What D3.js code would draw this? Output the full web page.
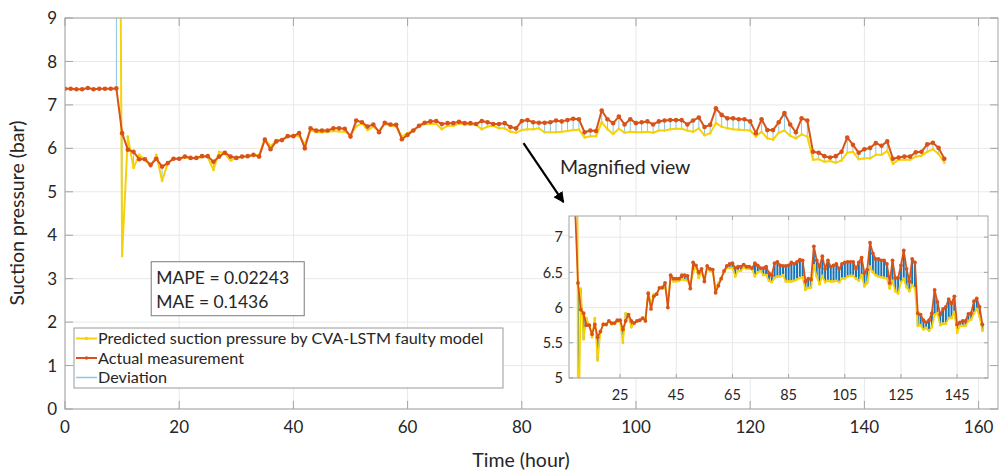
<!DOCTYPE html>
<html><head><meta charset="utf-8">
<script src="https://cdn.jsdelivr.net/npm/d3@7"></script>
<style>
body{margin:0;background:#fff;}
text{font-family:Lato,'Open Sans',sans-serif;fill:#262626;}
</style>
</head><body>
<svg id="chart" width="1000" height="472"></svg>
<script>
// ---------------- data ----------------
const hours = [0,1,2,3,4,5,6,7,8,9,10,11,12,13,14,15,16,17,18,19,20,21,22,23,24,25,26,27,28,29,
30,31,32,33,34,35,36,37,38,39,40,41,42,43,44,45,46,47,48,49,50,51,52,53,54,55,56,57,58,59,
60,61,62,63,64,65,66,67,68,69,70,71,72,73,74,75,76,77,78,79,80,81,82,83,84,85,86,87,88,89,
90,91,92,93,94,95,96,97,98,99,100,101,102,103,104,105,106,107,108,109,110,111,112,113,114,
115,116,117,118,119,120,121,122,123,124,125,126,127,128,129,130,131,132,133,134,135,136,137,
138,139,140,141,142,143,144,145,146,147,148,149,150,151,152,153,154];

const actual = [7.37,7.37,7.36,7.36,7.39,7.36,7.37,7.37,7.37,7.38,
6.35,5.97,5.92,5.75,5.75,5.62,5.76,5.58,5.66,5.76,
5.76,5.81,5.78,5.78,5.82,5.82,5.69,5.81,5.90,5.81,
5.78,5.81,5.82,5.85,5.81,6.20,5.98,6.16,6.19,6.28,
6.28,6.35,6.00,6.46,6.41,6.41,6.41,6.46,6.46,6.45,
6.27,6.64,6.60,6.50,6.55,6.37,6.59,6.55,6.54,6.21,
6.31,6.41,6.52,6.59,6.62,6.63,6.56,6.58,6.58,6.61,
6.58,6.58,6.56,6.63,6.60,6.56,6.56,6.58,6.49,6.46,
6.63,6.65,6.60,6.59,6.59,6.60,6.64,6.62,6.65,6.68,
6.67,6.37,6.41,6.40,6.87,6.67,6.58,6.73,6.55,6.67,
6.58,6.60,6.62,6.55,6.62,6.64,6.65,6.65,6.65,6.55,
6.64,6.71,6.49,6.54,6.92,6.77,6.69,6.69,6.67,6.67,
6.62,6.35,6.67,6.42,6.42,6.60,6.81,6.55,6.37,6.69,
6.64,5.92,5.90,5.82,5.79,5.82,5.92,6.25,6.08,5.90,
5.98,6.01,6.12,6.06,6.16,5.76,5.79,5.81,5.81,5.91,
5.92,6.09,6.13,6.01,5.76];

const predicted = [null,null,null,null,null,null,null,null,null,27.0,
3.52,6.27,5.55,5.85,5.74,5.58,5.85,5.25,5.66,5.77,
5.75,5.80,5.76,5.77,5.80,5.80,5.50,5.92,5.88,5.72,
5.78,5.80,5.82,5.84,5.85,6.22,6.05,6.19,6.20,6.27,
6.30,6.28,6.10,6.42,6.37,6.37,6.38,6.40,6.39,6.38,
6.31,6.50,6.58,6.42,6.50,6.41,6.56,6.52,6.50,6.27,
6.35,6.42,6.50,6.56,6.56,6.56,6.44,6.52,6.52,6.57,
6.55,6.55,6.54,6.44,6.50,6.52,6.46,6.46,6.38,6.36,
6.42,6.44,6.44,6.46,6.37,6.37,6.37,6.38,6.40,6.42,
6.43,6.25,6.28,6.28,6.60,6.44,6.33,6.45,6.36,6.38,
6.37,6.37,6.38,6.36,6.41,6.41,6.44,6.45,6.45,6.41,
6.38,6.46,6.30,6.35,6.58,6.50,6.46,6.44,6.43,6.42,
6.41,6.27,6.38,6.23,6.20,6.36,6.41,6.29,6.23,6.32,
6.27,5.74,5.75,5.69,5.71,5.67,5.72,5.90,5.92,5.75,
5.77,5.77,5.85,5.85,5.94,5.64,5.74,5.74,5.74,5.81,
5.83,5.92,5.98,5.87,5.67];

const xTicks = [0,20,40,60,80,100,120,140,160];
const yTicks = [0,1,2,3,4,5,6,7,8,9];
const insetXTicks = [25,45,65,85,105,125,145];
const insetYTicks = [5,5.5,6,6.5,7];
const insetYLabels = ["5","5.5","6","6.5","7"];
const legendLabels = ["Predicted suction pressure by CVA-LSTM faulty model","Actual measurement","Deviation"];
const statsLabels = ["MAPE = 0.02243","MAE = 0.1436"];
const xTitle = "Time (hour)";
const yTitle = "Suction pressure (bar)";
const noteText = "Magnified view";

// ---------------- styles ----------------
const C = {yellow:"#F7D208", orange:"#D95319", light:"#86C7EC", dark:"#1674B8",
           axis:"#a3a3a3", grid:"#e8e8e8"};

const rows = hours.map((h,i)=>({h, a:actual[i], p:predicted[i]}));
const rowsP = rows.filter(d=>d.p!=null);

const svg = d3.select("#chart");

function drawPanel(g, x, y, o){
  const [x0,x1] = x.range(), [y0,y1] = y.range();
  const id = o.id;
  g.append("rect").attr("x",x0).attr("y",y1).attr("width",x1-x0).attr("height",y0-y1).attr("fill","#fff");
  // grid
  g.append("g").selectAll("line").data(o.xt).join("line")
    .attr("x1",d=>x(d)).attr("x2",d=>x(d)).attr("y1",y0).attr("y2",y1)
    .attr("stroke",C.grid).attr("stroke-width",1);
  g.append("g").selectAll("line").data(o.yt).join("line")
    .attr("y1",d=>y(d)).attr("y2",d=>y(d)).attr("x1",x0).attr("x2",x1)
    .attr("stroke",C.grid).attr("stroke-width",1);
  g.append("clipPath").attr("id",id).append("rect")
    .attr("x",x0).attr("y",y1).attr("width",x1-x0).attr("height",y0-y1);
  const pg = g.append("g").attr("clip-path",`url(#${id})`);
  // deviation stems
  pg.append("g").selectAll("line").data(rowsP).join("line")
    .attr("x1",d=>x(d.h)).attr("x2",d=>x(d.h)).attr("y1",d=>y(d.a)).attr("y2",d=>y(d.p))
    .attr("stroke",o.stemColor).attr("stroke-width",o.stemWidth);
  const line = (key)=>d3.line().defined(d=>d[key]!=null).x(d=>x(d.h)).y(d=>y(d[key]));
  pg.append("path").datum(rowsP).attr("d",line("p")).attr("fill","none")
    .attr("stroke",C.yellow).attr("stroke-width",o.lw).attr("stroke-linejoin","round");
  pg.append("g").selectAll("circle").data(rowsP).join("circle")
    .attr("cx",d=>x(d.h)).attr("cy",d=>y(d.p)).attr("r",o.ry).attr("fill",C.yellow);
  pg.append("path").datum(rows).attr("d",line("a")).attr("fill","none")
    .attr("stroke",C.orange).attr("stroke-width",o.lw).attr("stroke-linejoin","round");
  pg.append("g").selectAll("circle").data(rows).join("circle")
    .attr("cx",d=>x(d.h)).attr("cy",d=>y(d.a)).attr("r",o.ro).attr("fill",C.orange);
  // box
  g.append("rect").attr("x",x0).attr("y",y1).attr("width",x1-x0).attr("height",y0-y1)
    .attr("fill","none").attr("stroke",C.axis).attr("stroke-width",1);
  // ticks (inward, all sides)
  const tl = o.tl;
  const tk = g.append("g").attr("stroke",C.axis).attr("stroke-width",1);
  o.xt.forEach(t=>{
    tk.append("line").attr("x1",x(t)).attr("x2",x(t)).attr("y1",y0).attr("y2",y0-tl);
    tk.append("line").attr("x1",x(t)).attr("x2",x(t)).attr("y1",y1).attr("y2",y1+tl);
  });
  o.yt.forEach(t=>{
    tk.append("line").attr("y1",y(t)).attr("y2",y(t)).attr("x1",x0).attr("x2",x0+tl);
    tk.append("line").attr("y1",y(t)).attr("y2",y(t)).attr("x1",x1).attr("x2",x1-tl);
  });
  // labels
  g.append("g").selectAll("text").data(o.xt).join("text")
    .attr("x",d=>x(d)).attr("y",y0+o.xlOff).attr("text-anchor","middle")
    .attr("font-size",o.fs).text((d,i)=>o.xl? o.xl[i] : d);
  g.append("g").selectAll("text").data(o.yt).join("text")
    .attr("x",x0-o.ylOff).attr("y",d=>y(d)).attr("dy","0.36em").attr("text-anchor","end")
    .attr("font-size",o.fs).text((d,i)=>o.yl? o.yl[i] : d);
}

// main axes
const x = d3.scaleLinear().domain([0,163.4]).range([65,998]);
const y = d3.scaleLinear().domain([0,9]).range([409,18]);
drawPanel(svg.append("g"), x, y, {id:"clipMain", xt:xTicks, yt:yTicks, stemColor:C.light, stemWidth:1,
  lw:2, ry:1.3, ro:2.3, tl:8, fs:17, xlOff:24, ylOff:8});

// axis titles
svg.append("text").attr("x",521).attr("y",467).attr("text-anchor","middle").attr("font-size",19.5).text(xTitle);
svg.append("text").attr("transform","translate(24,213) rotate(-90)").attr("text-anchor","middle")
  .attr("font-size",19.5).text(yTitle);

// stats box
const sb = svg.append("g");
sb.append("rect").attr("x",x(15.1)).attr("y",y(3.39)).attr("width",153).attr("height",54)
  .attr("fill","#fff").attr("stroke","#7a7a7a").attr("stroke-width",1);
sb.selectAll("text").data(statsLabels).join("text")
  .attr("x",x(15.1)+5).attr("y",(d,i)=>y(3.39)+22+i*24).attr("font-size",17.5).text(d=>d);

// legend
const lg = svg.append("g");
lg.append("rect").attr("x",74).attr("y",328).attr("width",429).attr("height",60)
  .attr("fill","#fff").attr("stroke","#9a9a9a").attr("stroke-width",1);
const legColors = [C.yellow, C.orange, C.light];
legendLabels.forEach((t,i)=>{
  const cy = 338.5 + i*19.5;
  lg.append("line").attr("x1",76).attr("x2",97).attr("y1",cy).attr("y2",cy)
    .attr("stroke",legColors[i]).attr("stroke-width",i==2?1.5:2);
  if(i<2) lg.append("circle").attr("cx",86.5).attr("cy",cy).attr("r",1.8).attr("fill",legColors[i]);
  lg.append("text").attr("x",98).attr("y",cy).attr("dy","0.36em").attr("font-size",16.2).text(t);
});

// annotation
const defs = svg.append("defs");
defs.append("marker").attr("id","arr").attr("viewBox","0 0 10 10").attr("refX",9).attr("refY",5)
  .attr("markerWidth",5).attr("markerHeight",5).attr("orient","auto")
  .append("path").attr("d","M0,0L10,5L0,10z").attr("fill","#000");
svg.append("line").attr("x1",x(80.3)).attr("y1",y(6.12)).attr("x2",x(87.3)).attr("y2",y(4.76))
  .attr("stroke","#000").attr("stroke-width",2.2).attr("marker-end","url(#arr)");
svg.append("text").attr("x",x(86.7)).attr("y",y(5.42)).attr("font-size",19.5).text(noteText);

// inset
const xi = d3.scaleLinear().domain([6.8,156]).range([569,988]);
const yi = d3.scaleLinear().domain([5,7.3]).range([378,216]);
drawPanel(svg.append("g"), xi, yi, {id:"clipInset", xt:insetXTicks, yt:insetYTicks, yl:insetYLabels,
  stemColor:C.dark, stemWidth:2, lw:1.8, ry:1.4, ro:1.9, tl:4, fs:14.5, xlOff:22, ylOff:6});
</script>
</body></html>
